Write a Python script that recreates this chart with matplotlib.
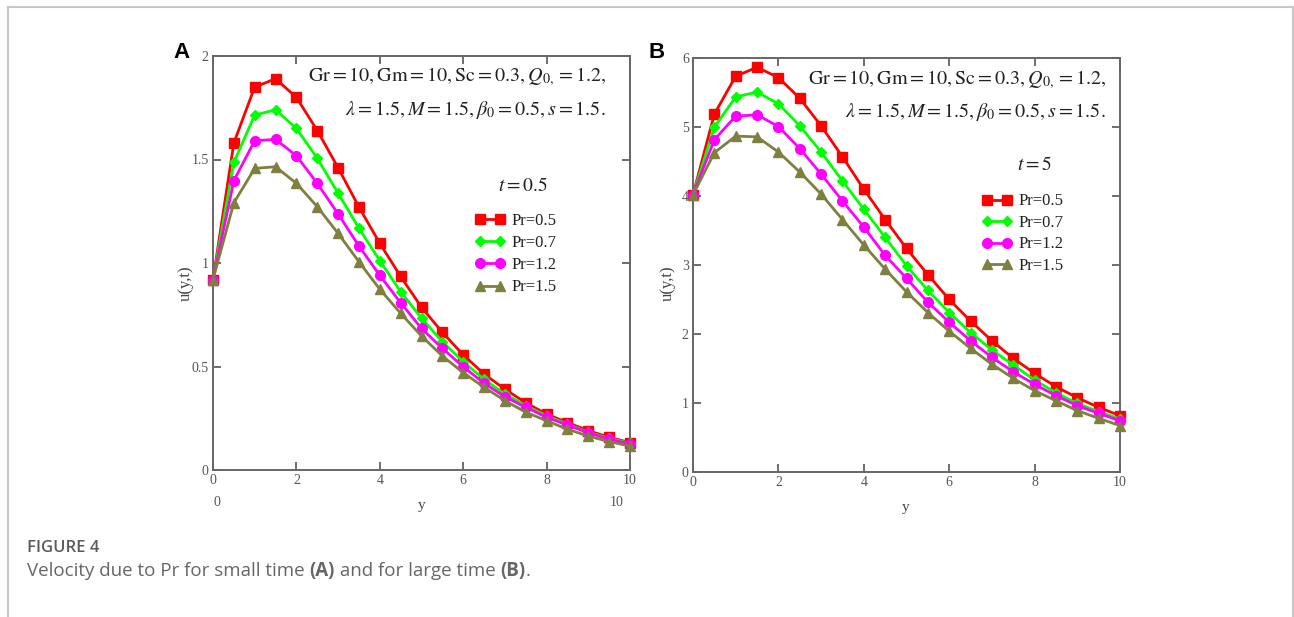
import matplotlib
matplotlib.use("Agg")
import matplotlib.pyplot as plt
import numpy as np

plt.rcParams['mathtext.fontset'] = 'stix'
plt.rcParams['font.family'] = ['Liberation Serif', 'DejaVu Serif']

# ---------------- data ----------------
y_vals = [0, 0.5, 1.0, 1.5, 2.0, 2.5, 3.0, 3.5, 4.0, 4.5, 5.0,
          5.5, 6.0, 6.5, 7.0, 7.5, 8.0, 8.5, 9.0, 9.5, 10.0]
labels = ["Pr=0.5", "Pr=0.7", "Pr=1.2", "Pr=1.5"]

# Panel A : t = 0.5
a_pr05 = [0.92, 1.58, 1.85, 1.89, 1.80, 1.64, 1.46, 1.27, 1.095, 0.935, 0.786,
          0.665, 0.556, 0.464, 0.39, 0.325, 0.27, 0.229, 0.19, 0.158, 0.132]
a_pr07 = [0.92, 1.486, 1.715, 1.74, 1.65, 1.506, 1.337, 1.168, 1.011, 0.861, 0.733,
          0.62, 0.523, 0.438, 0.367, 0.311, 0.262, 0.222, 0.182, 0.153, 0.129]
a_pr12 = [0.92, 1.398, 1.591, 1.597, 1.518, 1.385, 1.237, 1.082, 0.94, 0.808, 0.684,
          0.588, 0.499, 0.419, 0.354, 0.303, 0.255, 0.217, 0.18, 0.148, 0.126]
a_pr15 = [0.92, 1.291, 1.457, 1.465, 1.385, 1.272, 1.143, 1.006, 0.873, 0.757, 0.647,
          0.551, 0.47, 0.40, 0.335, 0.279, 0.238, 0.197, 0.164, 0.137, 0.116]

# Panel B : t = 5
b_pr05 = [4.02, 5.19, 5.74, 5.87, 5.72, 5.42, 5.02, 4.57, 4.10, 3.66, 3.24,
          2.86, 2.50, 2.187, 1.90, 1.645, 1.428, 1.234, 1.074, 0.934, 0.813]
b_pr07 = [4.02, 5.00, 5.44, 5.51, 5.34, 5.02, 4.64, 4.22, 3.81, 3.40, 2.99,
          2.63, 2.31, 2.02, 1.766, 1.549, 1.33, 1.147, 0.99, 0.871, 0.765]
b_pr12 = [4.02, 4.82, 5.16, 5.18, 5.01, 4.69, 4.32, 3.93, 3.55, 3.14, 2.807,
          2.46, 2.17, 1.90, 1.66, 1.45, 1.268, 1.104, 0.958, 0.847, 0.74]
b_pr15 = [4.02, 4.63, 4.87, 4.86, 4.64, 4.35, 4.03, 3.66, 3.29, 2.94, 2.61,
          2.31, 2.04, 1.79, 1.56, 1.355, 1.176, 1.03, 0.886, 0.775, 0.668]

a_ticks_y = [0, 0.5, 1, 1.5, 2]
a_ticklabels_y = ["0", "0.5", "1", "1.5", "2"]
b_ticks_y = [0, 1, 2, 3, 4, 5, 6]
x_ticks = [0, 2, 4, 6, 8, 10]

colors = ['#ff0000', '#00ff00', '#ff00ff', '#7f7f3f']
markers = ['s', 'D', 'o', '^']
msizes = [7.5, 5.5, 7, 7]

fig = plt.figure(figsize=(12.94, 6.17), dpi=100)

# frame border
fig.add_artist(plt.Line2D([8/1294, 8/1294], [0, 1 - 7/617], color='#c8c8c8', lw=1.5))
fig.add_artist(plt.Line2D([8/1294, 1293/1294], [1 - 7/617, 1 - 7/617], color='#c8c8c8', lw=1.5))
fig.add_artist(plt.Line2D([1293/1294, 1293/1294], [0, 1 - 7/617], color='#c8c8c8', lw=1.5))

axA = fig.add_axes([213/1294, 1 - 470/617, (630 - 213)/1294, (470 - 56)/617])
axB = fig.add_axes([693/1294, 1 - 471.7/617, (1120 - 693)/1294, (471.7 - 58.3)/617])

tick_col = '#555555'


def style(ax):
    for s in ax.spines.values():
        s.set_color('#666666')
        s.set_linewidth(1.4)
    ax.tick_params(direction='in', top=True, right=True, length=6, width=1.2,
                   color='#555555', labelsize=10, labelcolor=tick_col, pad=3)
    ax.set_xlim(0, 10)
    ax.set_xticks(x_ticks)


seriesA = [a_pr05, a_pr07, a_pr12, a_pr15]
seriesB = [b_pr05, b_pr07, b_pr12, b_pr15]

for ax, ser in [(axA, seriesA), (axB, seriesB)]:
    for vals, c, m, ms, lab in zip(ser, colors, markers, msizes, labels):
        ax.plot(y_vals, vals, color=c, marker=m, markersize=ms, lw=2.0,
                label=lab, clip_on=False, zorder=3)
    style(ax)

axA.set_ylim(0, 2)
axA.set_yticks(a_ticks_y)
axA.set_yticklabels(a_ticklabels_y)
axB.set_ylim(0, 6)
axB.set_yticks(b_ticks_y)

# axis labels
fig.text(422/1294, 1 - 505/617, "y", ha='center', va='center', fontsize=11, color='#444444')
fig.text(906/1294, 1 - 507/617, "y", ha='center', va='center', fontsize=11, color='#444444')
fig.text(186/1294, 1 - 283/617, "u(y,t)", ha='center', va='center', fontsize=12,
         color='#444444', rotation=90)
fig.text(668/1294, 1 - 283/617, "u(y,t)", ha='center', va='center', fontsize=12,
         color='#444444', rotation=90)
# Mathcad range labels under panel A
fig.text(217/1294, 1 - 503/617, "0", ha='center', va='center', fontsize=10, color=tick_col)
fig.text(617/1294, 1 - 503/617, "10", ha='center', va='center', fontsize=10, color=tick_col)

# annotations
line1 = r"$\mathrm{Gr} = 10, \mathrm{Gm} = 10, \mathrm{Sc} = 0.3, Q_{0,} = 1.2,$"
line2 = r"$\lambda = 1.5, M = 1.5, \beta_0 = 0.5, s = 1.5.$"
txt_col = '#222222'
fig.text(606/1294, 1 - 77/617, line1, ha='right', va='center', fontsize=14.5, color=txt_col)
fig.text(606/1294, 1 - 110/617, line2, ha='right', va='center', fontsize=14.5, color=txt_col)
fig.text(548/1294, 1 - 186/617, r"$t = 0.5$", ha='right', va='center', fontsize=14, color=txt_col)
fig.text(1106/1294, 1 - 80/617, line1, ha='right', va='center', fontsize=14.5, color=txt_col)
fig.text(1106/1294, 1 - 112/617, line2, ha='right', va='center', fontsize=14.5, color=txt_col)
fig.text(1052/1294, 1 - 165/617, r"$t = 5$", ha='right', va='center', fontsize=14, color=txt_col)

# legends
for ax, anchor, sp in [(axA, (0.629, 0.621), 0.37), (axB, (0.676, 0.673), 0.33)]:
    leg = ax.legend(loc='upper left', bbox_to_anchor=anchor, frameon=False,
                    fontsize=12, handlelength=1.8, handletextpad=0.4,
                    labelspacing=sp, numpoints=2, borderpad=0, borderaxespad=0)
    for t in leg.get_texts():
        t.set_color('#222222')

# panel letters
fig.text(181/1294, 1 - 52/617, "A", ha='center', va='center', fontsize=16,
         fontweight='bold', family='Liberation Sans')
fig.text(657/1294, 1 - 52/617, "B", ha='center', va='center', fontsize=16,
         fontweight='bold', family='Liberation Sans')

# caption
fig.text(27/1294, 1 - 548/617, "FIGURE 4", ha='left', va='center', fontsize=12,
         fontweight='semibold', family='Open Sans', color='#5a5a5a')

renderer = fig.canvas.get_renderer()
parts = [("Velocity due to Pr for small time ", 'normal'), ("(A)", 'bold'),
         (" and for large time ", 'normal'), ("(B)", 'bold'), (".", 'normal')]
xpos = 27
for s, w in parts:
    t = fig.text(xpos/1294, 1 - 571/617, s, ha='left', va='center', fontsize=13.5,
                 fontweight=w, family='Open Sans', color='#666666')
    bb = t.get_window_extent(renderer=renderer)
    xpos = bb.x1

fig.savefig("out.png", dpi=100)
